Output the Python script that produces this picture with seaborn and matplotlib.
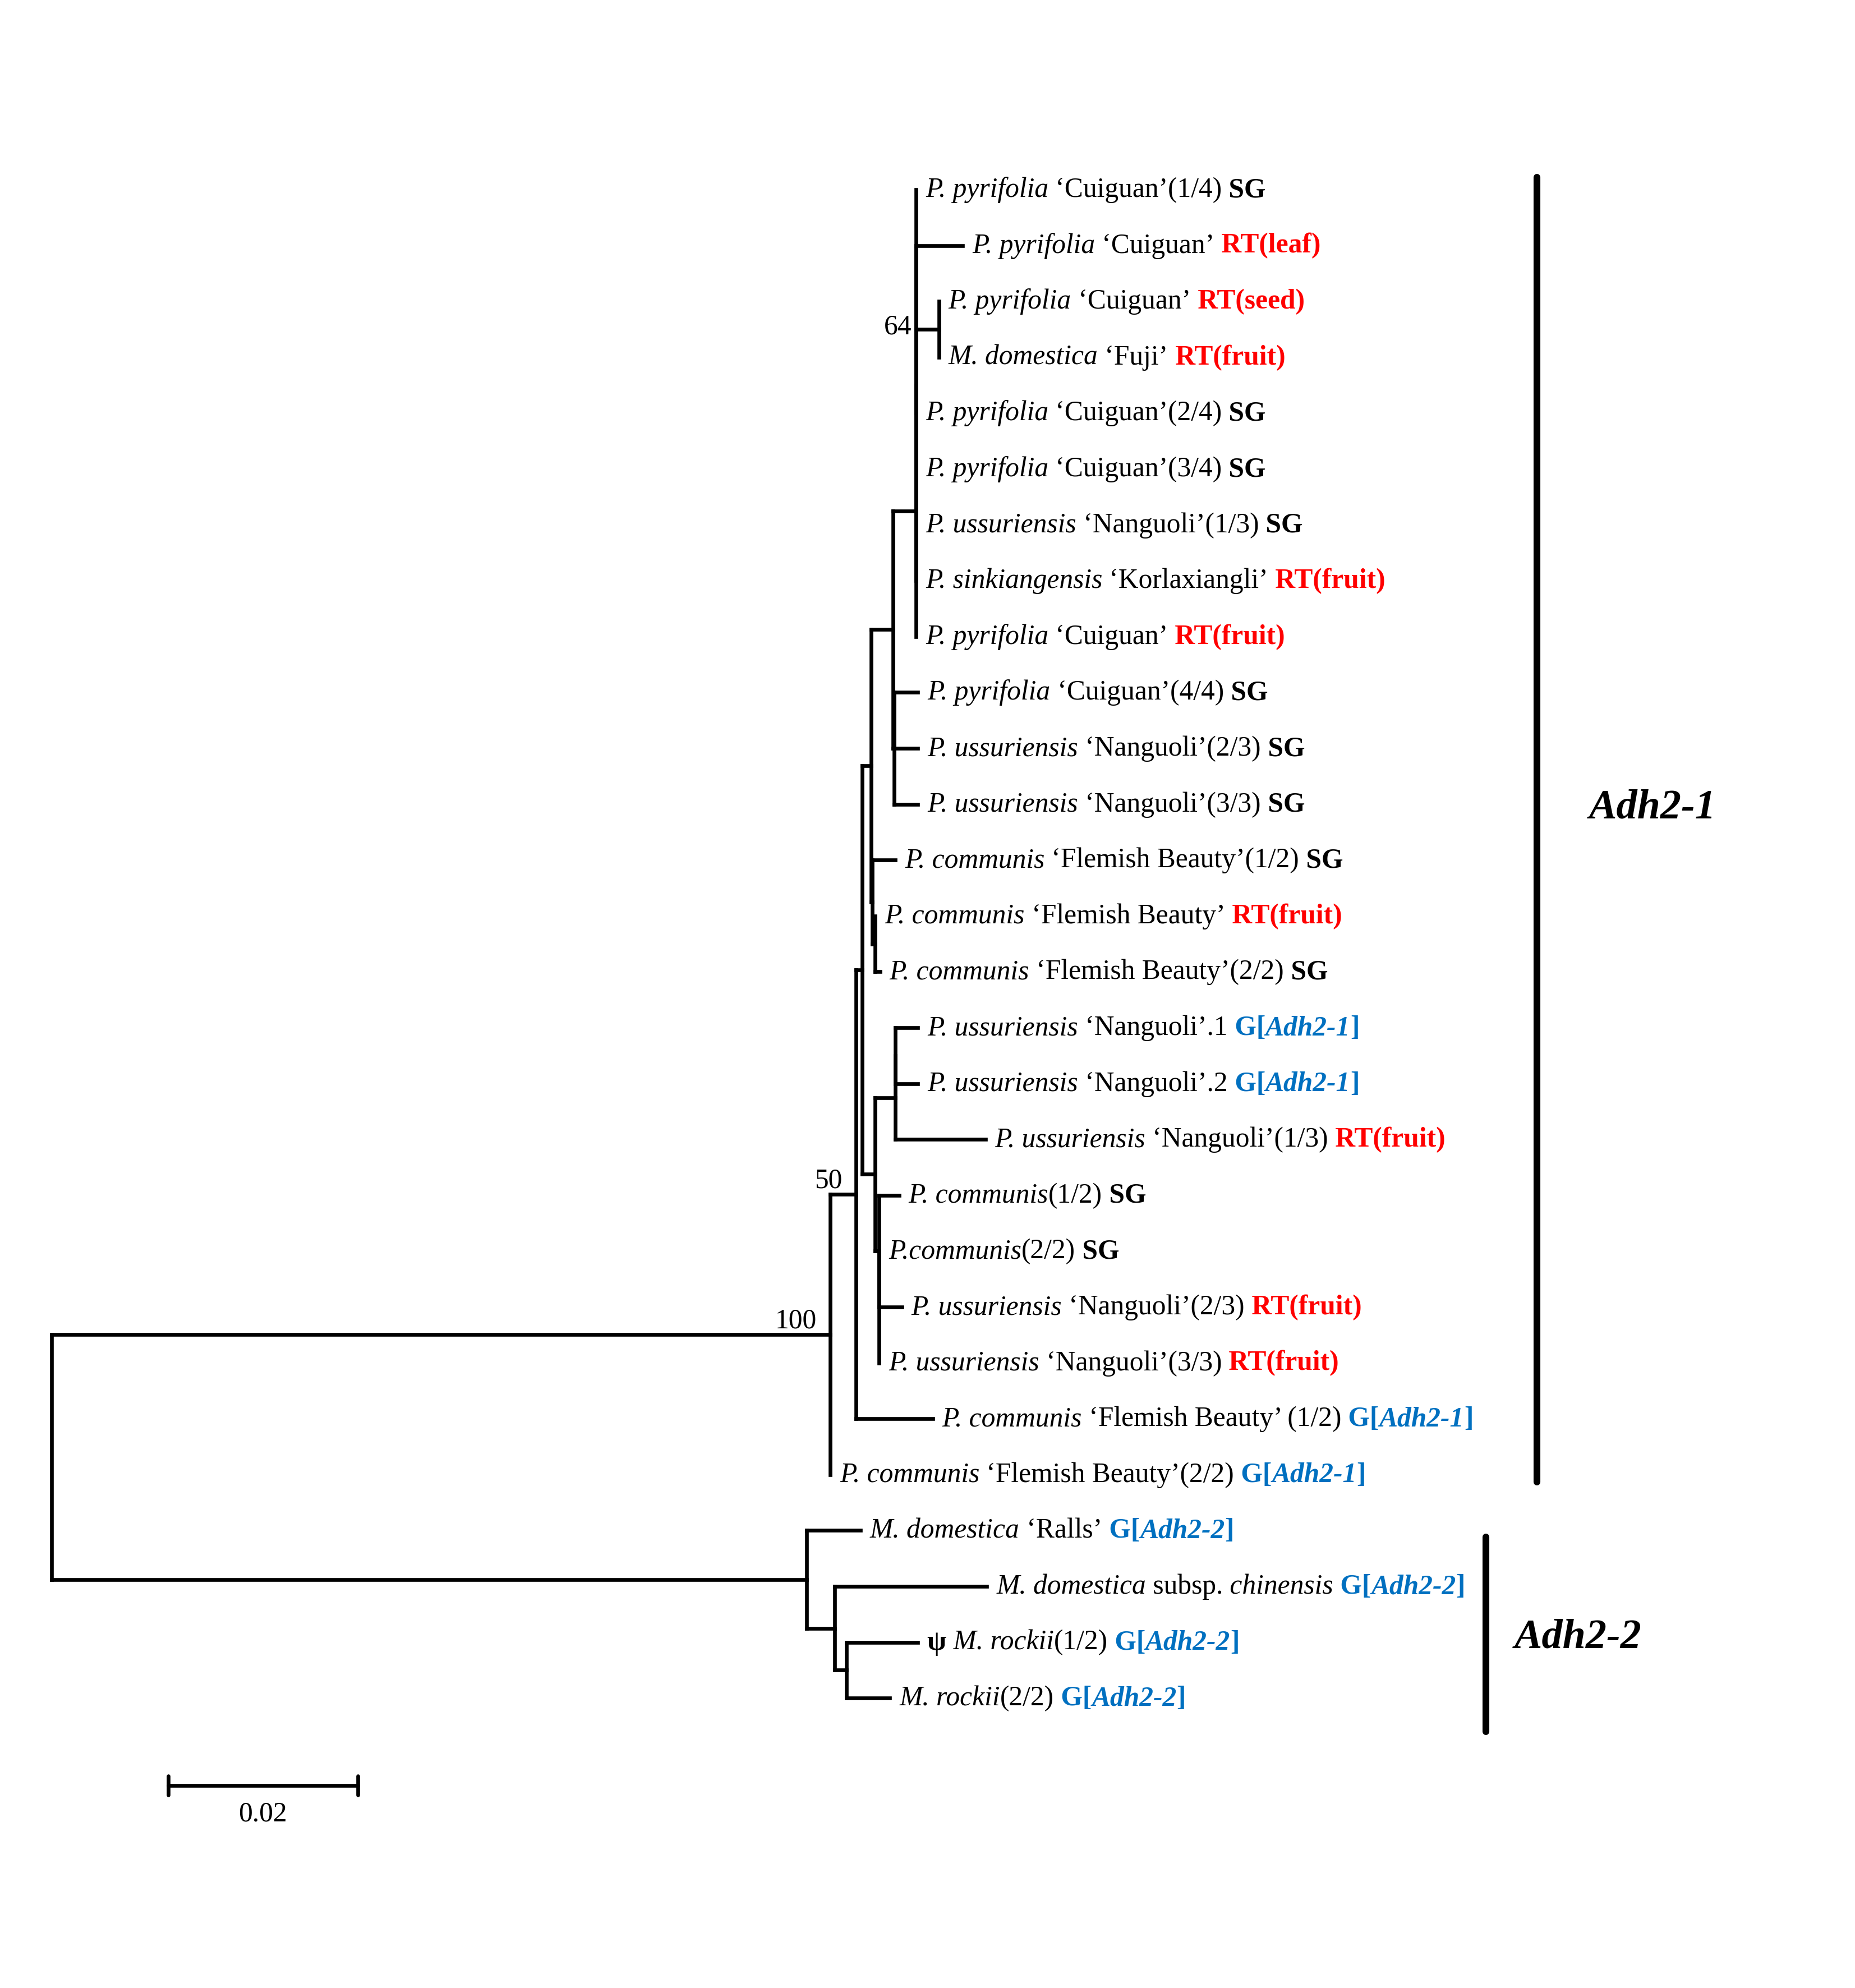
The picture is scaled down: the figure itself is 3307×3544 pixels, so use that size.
import matplotlib
matplotlib.use("Agg")
import matplotlib.pyplot as plt
import numpy as np
import pandas as pd
import seaborn as sns

# ---------------- data: tree topology and branch lengths ----------------
node_ids = ["root", "n100", "n50", "D", "C", "B", "A", "A1", "L1", "A0", "L2", "sub",
            "L3", "L4", "L5", "L6", "L7", "L8", "L9", "G", "L10", "L11", "L12",
            "E", "L13", "F", "L14", "L15", "H", "I", "I2", "L16", "L17", "L18",
            "J", "L19", "J2", "L20", "L21", "L22", "L23", "L24",
            "K", "L25", "Lc", "L26", "M", "L27", "L28"]
node_parent = [None, "root", "n100", "n50", "D", "C", "B", "A", "A1", "A1", "A0", "A0",
               "sub", "sub", "A0", "A1", "A1", "A1", "A", "B", "G", "G", "G",
               "C", "E", "E", "F", "F", "D", "H", "I", "I2", "I2", "I",
               "H", "J", "J", "J2", "J2", "J2", "n50", "n100",
               "root", "K", "K", "Lc", "Lc", "M", "M"]
branch_length = [0.0, 0.0820, 0.0027, 0.00065, 0.0010, 0.0023, 0.0024, 0.0, 0.0, 0.0, 0.0049, 0.0024,
                 0.0, 0.0, 0.0, 0.0, 0.0, 0.0, 0.0, 0.0001, 0.0025, 0.0025, 0.0025,
                 0.0001, 0.0024, 0.0003, 0.0, 0.0005, 0.0014, 0.0021, 0.0, 0.0024, 0.0024, 0.0095,
                 0.0004, 0.0021, 0.0, 0.0, 0.0024, 0.0, 0.0081, 0.0,
                 0.0795, 0.0057, 0.0030, 0.0160, 0.0012, 0.0075, 0.0046]

support_nodes = ["n100", "n50", "A0"]
support_values = [100, 50, 64]

# leaf labels (in leaf order L1..L28); *...* italic, ^...^ bold
leaf_names = [
    "*P. pyrifolia* ‘Cuiguan’(1/4)",
    "*P. pyrifolia* ‘Cuiguan’",
    "*P. pyrifolia* ‘Cuiguan’",
    "*M. domestica* ‘Fuji’",
    "*P. pyrifolia* ‘Cuiguan’(2/4)",
    "*P. pyrifolia* ‘Cuiguan’(3/4)",
    "*P. ussuriensis* ‘Nanguoli’(1/3)",
    "*P. sinkiangensis* ‘Korlaxiangli’",
    "*P. pyrifolia* ‘Cuiguan’",
    "*P. pyrifolia* ‘Cuiguan’(4/4)",
    "*P. ussuriensis* ‘Nanguoli’(2/3)",
    "*P. ussuriensis* ‘Nanguoli’(3/3)",
    "*P. communis* ‘Flemish Beauty’(1/2)",
    "*P. communis* ‘Flemish Beauty’",
    "*P. communis* ‘Flemish Beauty’(2/2)",
    "*P. ussuriensis* ‘Nanguoli’.1",
    "*P. ussuriensis* ‘Nanguoli’.2",
    "*P. ussuriensis* ‘Nanguoli’(1/3)",
    "*P. communis*(1/2)",
    "*P.communis*(2/2)",
    "*P. ussuriensis* ‘Nanguoli’(2/3)",
    "*P. ussuriensis* ‘Nanguoli’(3/3)",
    "*P. communis* ‘Flemish Beauty’ (1/2)",
    "*P. communis* ‘Flemish Beauty’(2/2)",
    "*M. domestica* ‘Ralls’",
    "*M. domestica* subsp. *chinensis*",
    "^ψ^ *M. rockii*(1/2)",
    "*M. rockii*(2/2)",
]
leaf_tags = ["SG", "RT(leaf)", "RT(seed)", "RT(fruit)", "SG", "SG", "SG", "RT(fruit)",
             "RT(fruit)", "SG", "SG", "SG", "SG", "RT(fruit)", "SG",
             "G[*Adh2-1*]", "G[*Adh2-1*]", "RT(fruit)", "SG", "SG", "RT(fruit)", "RT(fruit)",
             "G[*Adh2-1*]", "G[*Adh2-1*]",
             "G[*Adh2-2*]", "G[*Adh2-2*]", "G[*Adh2-2*]", "G[*Adh2-2*]"]
tag_colors = {"SG": "black", "RT": "#FF0000", "G[": "#0070C0"}

clade_names = ["Adh2-1", "Adh2-2"]
clade_first_leaf = [1, 25]
clade_last_leaf = [24, 28]

scale_value = 0.02

# ---------------- layout ----------------
W_PX, H_PX, DPI = 3307, 3544, 300
PX_PER_UNIT = 16925.0
ROOT_PX = 92
ROW0_PX, ROW_PX = 338, 99.6

xmin = -ROOT_PX / PX_PER_UNIT
xmax = (W_PX - ROOT_PX) / PX_PER_UNIT
ytop = 1 - ROW0_PX / ROW_PX
ybot = 1 + (H_PX - ROW0_PX) / ROW_PX
px = (xmax - xmin) / W_PX        # data units per pixel (x)
py = (ybot - ytop) / H_PX         # rows per pixel (y)

children = {n: [] for n in node_ids}
for n, p in zip(node_ids, node_parent):
    if p is not None:
        children[p].append(n)
blen = dict(zip(node_ids, branch_length))
parent = dict(zip(node_ids, node_parent))

xpos, ypos = {}, {}
leaf_order = [n for n in node_ids if not children[n]]
for i, n in enumerate(leaf_order):
    ypos[n] = i + 1


def set_x(n, x0):
    xpos[n] = x0 + blen[n]
    for c in children[n]:
        set_x(c, xpos[n])


def set_y(n):
    if children[n]:
        for c in children[n]:
            set_y(c)
        ypos[n] = 0.5 * (ypos[children[n][0]] + ypos[children[n][-1]])


set_x("root", 0.0)
set_y("root")

segs = []
k = 0
for n in node_ids:
    p = parent[n]
    if p is not None and blen[n] > 0:
        segs += [(k, xpos[p], ypos[n]), (k, xpos[n], ypos[n])]
        k += 1
    if children[n]:
        segs += [(k, xpos[n], ypos[children[n][0]]), (k, xpos[n], ypos[children[n][-1]])]
        k += 1
seg_df = pd.DataFrame(segs, columns=["seg", "x", "y"])

# ---------------- figure ----------------
sns.set_theme(style="white")
plt.rcParams["font.family"] = ["Liberation Serif", "DejaVu Serif"]
plt.rcParams["text.color"] = "black"

fig = plt.figure(figsize=(W_PX / DPI, H_PX / DPI), dpi=DPI)
ax = fig.add_axes([0, 0, 1, 1])
ax.set_xlim(xmin, xmax)
ax.set_ylim(ybot, ytop)
ax.axis("off")

sns.lineplot(data=seg_df, x="x", y="y", units="seg", estimator=None, sort=False,
             color="black", linewidth=1.6, ax=ax, legend=False,
             solid_capstyle="projecting")

renderer = fig.canvas.get_renderer()
FS = 11.9


def parse(markup, bold0=False):
    pieces, cur, it, bd = [], "", False, bold0
    for ch in markup:
        if ch in "*^":
            if cur:
                pieces.append([cur, it, bd])
            cur = ""
            if ch == "*":
                it = not it
            else:
                bd = not bd
        else:
            cur += ch
    if cur:
        pieces.append([cur, it, bd])
    return pieces


def draw_pieces(x, y, pieces):
    # move trailing spaces to start of next piece
    for i in range(len(pieces) - 1):
        t = pieces[i][0]
        s = t.rstrip(" ")
        if len(s) < len(t):
            pieces[i][0] = s
            pieces[i + 1][0] = " " * (len(t) - len(s)) + pieces[i + 1][0]
    for text, it, bd, col in pieces:
        if not text:
            continue
        t = ax.text(x, y, text, fontsize=FS, fontstyle="italic" if it else "normal",
                    fontweight="bold" if bd else "normal", color=col,
                    ha="left", va="baseline")
        w = t.get_window_extent(renderer).width
        x += w * px


for i, n in enumerate(leaf_order):
    name_p = [p + ["black"] for p in parse(leaf_names[i])]
    tag = leaf_tags[i]
    col = tag_colors[tag[:2]] if tag[:2] in tag_colors else "black"
    tag_p = [p + [col] for p in parse(tag, bold0=True)]
    tag_p[0][0] = " " + tag_p[0][0]
    draw_pieces(xpos[n] + 17 * px, ypos[n] + 13 * py, name_p + tag_p)

# bootstrap support values
for n, v in zip(support_nodes, support_values):
    if blen[n] > 0:
        ax.text(xpos[n] - 24 * px, ypos[n] - 12 * py, str(v), fontsize=FS,
                ha="right", va="baseline", color="black")
    else:
        ax.text(xpos[n] - 8 * px, ypos[n] + 8 * py, str(v), fontsize=FS,
                ha="right", va="baseline", color="black")

# clade bars
bar_x_px = [2740, 2649]
bar_pad_top = [22, -12]
bar_pad_bot = [13, 60]
lab_x_px = [2833, 2700]
lab_y_px = [1440, 2919]
for j, name in enumerate(clade_names):
    bx = (bar_x_px[j] - ROOT_PX) / PX_PER_UNIT
    y0 = clade_first_leaf[j] - bar_pad_top[j] * py
    y1 = clade_last_leaf[j] + bar_pad_bot[j] * py
    bdf = pd.DataFrame({"x": [bx, bx], "y": [y0, y1]})
    sns.lineplot(data=bdf, x="x", y="y", estimator=None, sort=False, color="black",
                 linewidth=2.9, ax=ax, legend=False)
    lx = (lab_x_px[j] - ROOT_PX) / PX_PER_UNIT
    ly = 1 + (lab_y_px[j] - ROW0_PX) / ROW_PX
    ax.text(lx, ly, name, fontsize=17.8, fontstyle="italic", color="black",
            fontweight="bold", ha="left", va="center")

# scale bar
sx0 = (299.5 - ROOT_PX) / PX_PER_UNIT
sy = 1 + (3183 - ROW0_PX) / ROW_PX
sb = pd.DataFrame({"seg": [0, 0, 1, 1, 2, 2],
                   "x": [sx0, sx0 + scale_value, sx0, sx0, sx0 + scale_value, sx0 + scale_value],
                   "y": [sy, sy, sy - 17 * py, sy + 17 * py, sy - 17 * py, sy + 17 * py]})
sns.lineplot(data=sb, x="x", y="y", units="seg", estimator=None, sort=False,
             color="black", linewidth=1.6, ax=ax, legend=False)
ax.text(sx0 + scale_value / 2, sy + 51 * py, f"{scale_value:.2f}", fontsize=FS,
        ha="center", va="center", color="black")

ax.set_xlabel("")
ax.set_ylabel("")
fig.savefig("out.png", dpi=DPI)
